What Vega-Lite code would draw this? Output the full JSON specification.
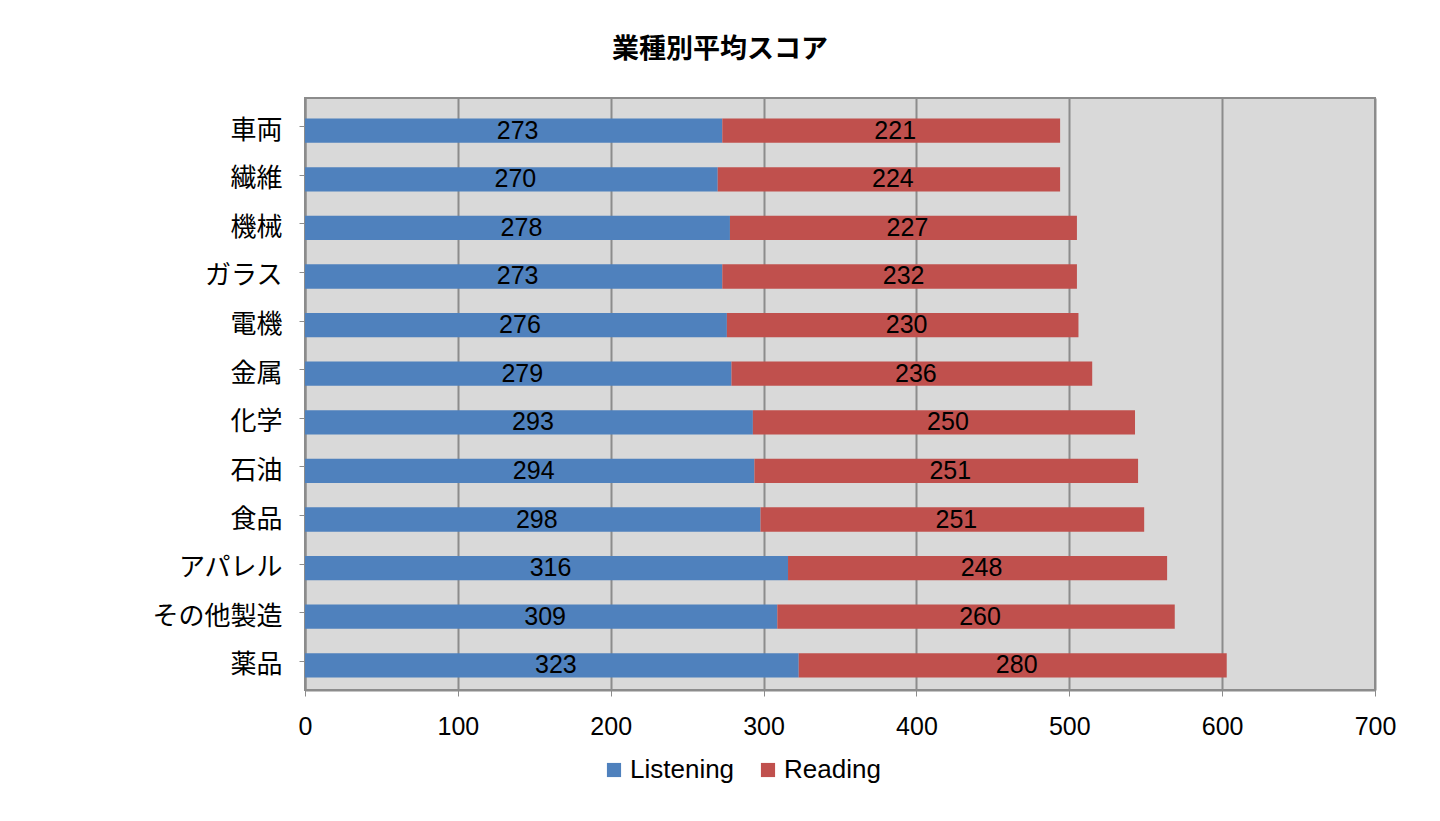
{
  "$schema": "https://vega.github.io/schema/vega-lite/v6.json",
  "width": 1070,
  "height": 592,
  "autosize": "none",
  "padding": {"left": 305, "top": 98, "right": 65, "bottom": 131},
  "background": "white",
  "config": {
    "font": "Liberation Sans, Noto Sans CJK JP",
    "view": {"fill": "#D9D9D9", "stroke": "#8C8C8C", "strokeWidth": 2}
  },
  "title": {
    "text": "業種別平均スコア",
    "font": "Noto Sans CJK JP",
    "fontSize": 27,
    "fontWeight": "bold",
    "color": "black",
    "frame": "group",
    "anchor": "middle",
    "dx": -120,
    "offset": 34
  },
  "data": {
    "values": [
      {"industry": "車両", "series": "Listening", "value": 273},
      {"industry": "車両", "series": "Reading", "value": 221},
      {"industry": "繊維", "series": "Listening", "value": 270},
      {"industry": "繊維", "series": "Reading", "value": 224},
      {"industry": "機械", "series": "Listening", "value": 278},
      {"industry": "機械", "series": "Reading", "value": 227},
      {"industry": "ガラス", "series": "Listening", "value": 273},
      {"industry": "ガラス", "series": "Reading", "value": 232},
      {"industry": "電機", "series": "Listening", "value": 276},
      {"industry": "電機", "series": "Reading", "value": 230},
      {"industry": "金属", "series": "Listening", "value": 279},
      {"industry": "金属", "series": "Reading", "value": 236},
      {"industry": "化学", "series": "Listening", "value": 293},
      {"industry": "化学", "series": "Reading", "value": 250},
      {"industry": "石油", "series": "Listening", "value": 294},
      {"industry": "石油", "series": "Reading", "value": 251},
      {"industry": "食品", "series": "Listening", "value": 298},
      {"industry": "食品", "series": "Reading", "value": 251},
      {"industry": "アパレル", "series": "Listening", "value": 316},
      {"industry": "アパレル", "series": "Reading", "value": 248},
      {"industry": "その他製造", "series": "Listening", "value": 309},
      {"industry": "その他製造", "series": "Reading", "value": 260},
      {"industry": "薬品", "series": "Listening", "value": 323},
      {"industry": "薬品", "series": "Reading", "value": 280}
    ]
  },
  "transform": [
    {"stack": "value", "groupby": ["industry"], "sort": [{"field": "series"}], "as": ["x0", "x1"]},
    {"calculate": "(datum.x0 + datum.x1) / 2", "as": "mid"}
  ],
  "encoding": {
    "y": {
      "field": "industry",
      "type": "nominal",
      "sort": ["車両", "繊維", "機械", "ガラス", "電機", "金属", "化学", "石油", "食品", "アパレル", "その他製造", "薬品"],
      "scale": {"paddingInner": 0.5, "paddingOuter": 0.34},
      "axis": {
        "title": null,
        "labelFont": "Noto Sans CJK JP",
        "labelFontSize": 26,
        "labelColor": "black",
        "labelPadding": 17,
        "labelOffset": 4,
        "tickSize": 6,
        "tickColor": "#8C8C8C",
        "domainColor": "#8C8C8C",
        "domainWidth": 2
      }
    }
  },
  "layer": [
    {
      "mark": {"type": "bar", "yOffset": 4},
      "encoding": {
        "x": {
          "field": "x0",
          "type": "quantitative",
          "scale": {"domain": [0, 700], "nice": false},
          "axis": {
            "title": null,
            "values": [0, 100, 200, 300, 400, 500, 600, 700],
            "labelFlush": false,
            "labelFontSize": 25,
            "labelColor": "black",
            "labelPadding": 18,
            "tickSize": 6,
            "tickColor": "#8C8C8C",
            "domainColor": "#8C8C8C",
            "domainWidth": 2,
            "grid": true,
            "gridColor": "#8C8C8C",
            "gridWidth": 2
          }
        },
        "x2": {"field": "x1"},
        "color": {
          "field": "series",
          "type": "nominal",
          "scale": {"domain": ["Listening", "Reading"], "range": ["#4F81BD", "#C0504D"]},
          "legend": {
            "title": null,
            "orient": "none",
            "direction": "horizontal",
            "legendX": 296,
            "legendY": 659,
            "symbolType": "square",
            "symbolSize": 200,
            "symbolStrokeWidth": 0,
            "labelFontSize": 26,
            "labelColor": "black",
            "labelOffset": 3,
            "columnPadding": 20
          }
        }
      }
    },
    {
      "mark": {"type": "text", "fontSize": 25, "color": "black", "dx": 4, "yOffset": 4},
      "encoding": {
        "x": {"field": "mid", "type": "quantitative"},
        "text": {"field": "value", "type": "quantitative"}
      }
    }
  ]
}
